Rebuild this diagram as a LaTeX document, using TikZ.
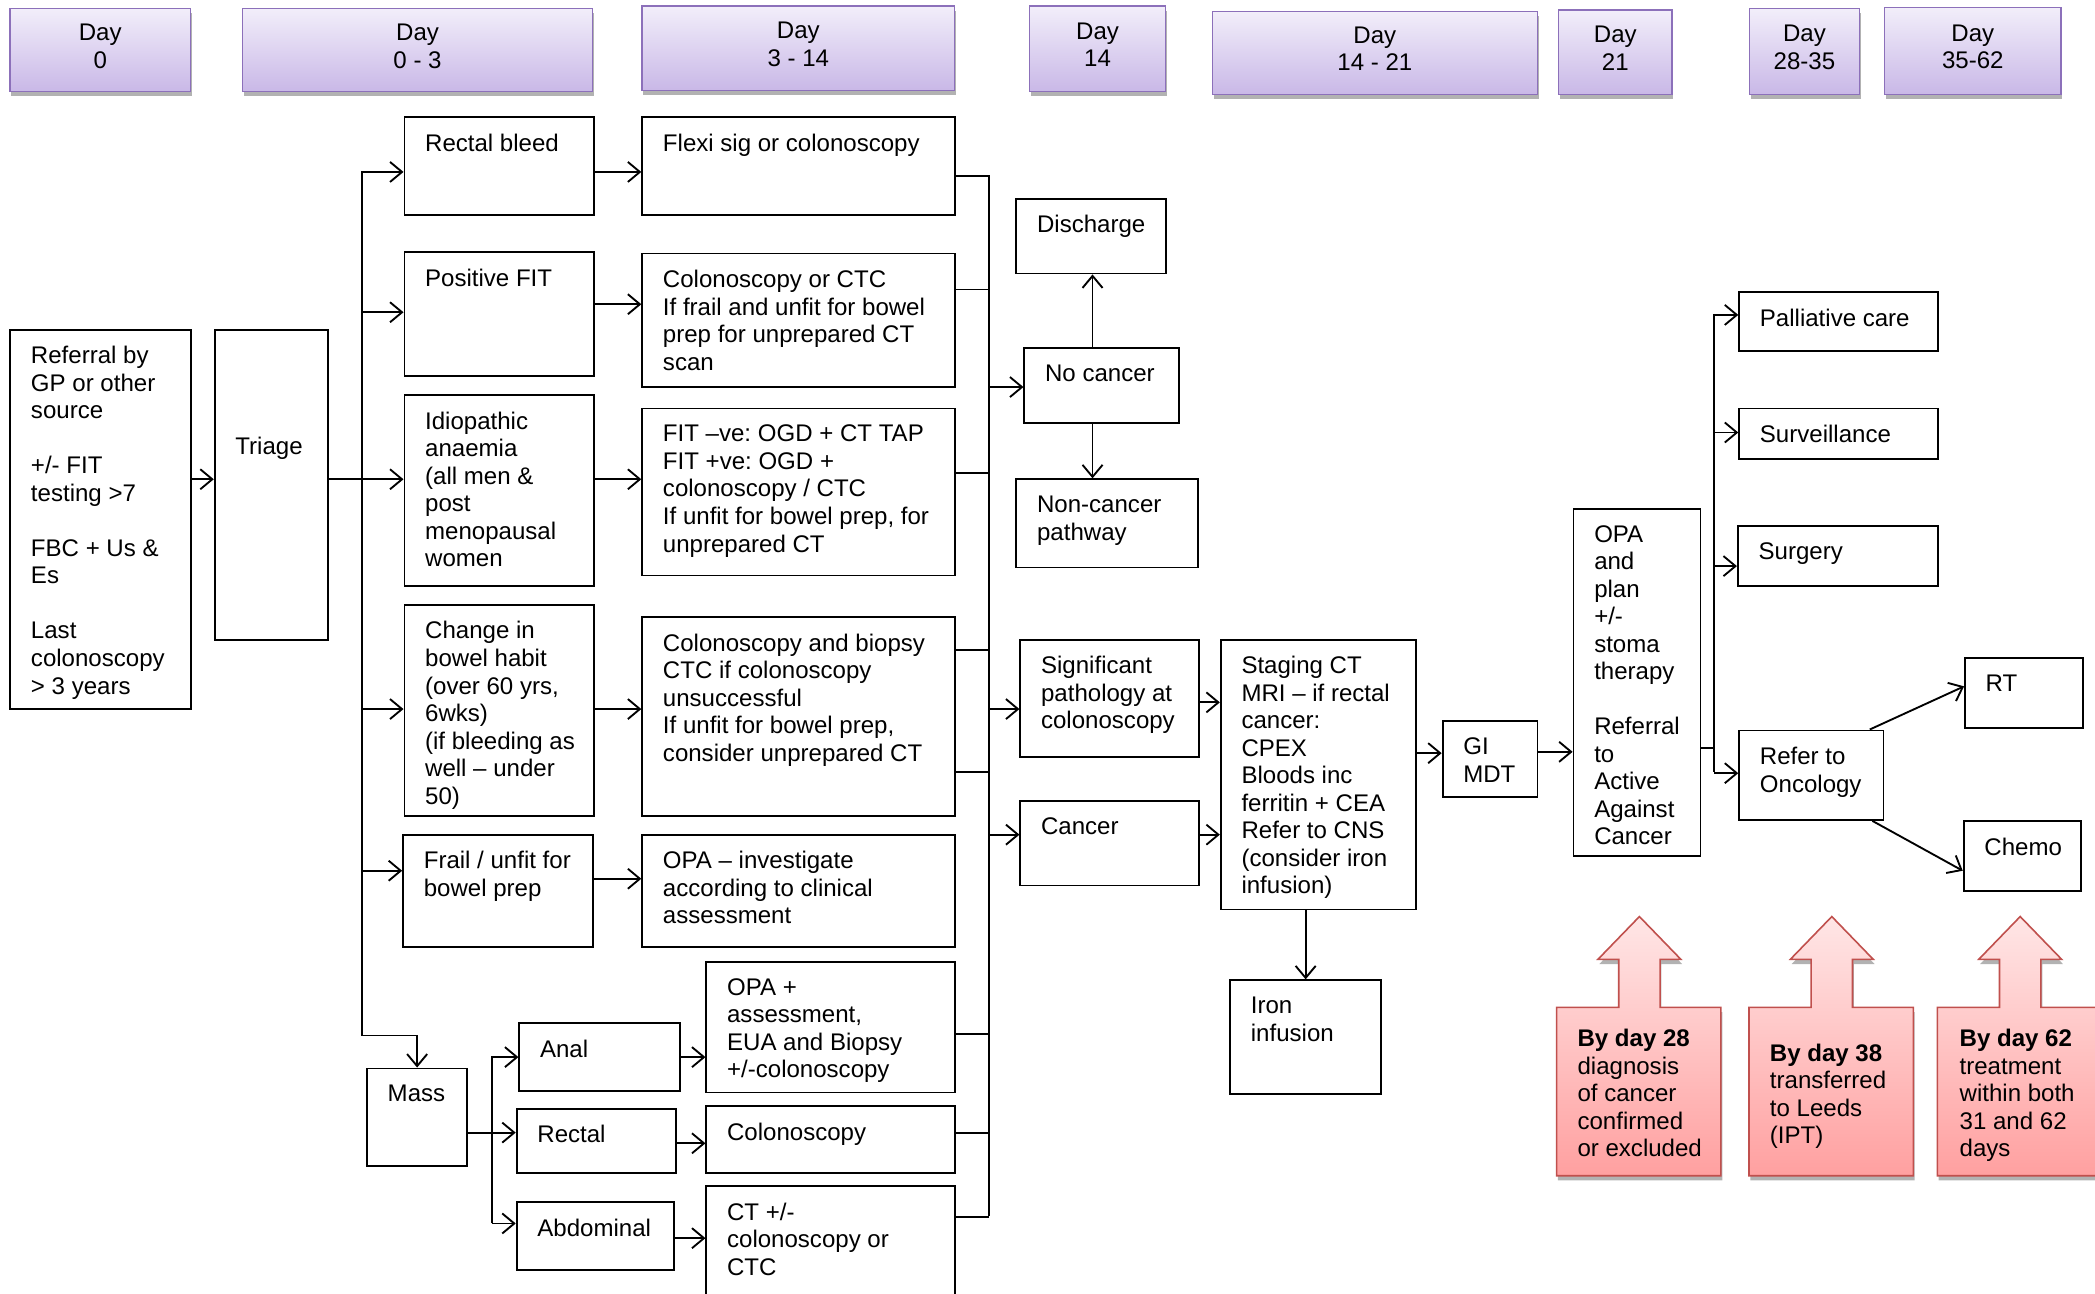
\documentclass[tikz,border=0pt]{standalone}
\usepackage{fontspec}
\setmainfont{Liberation Sans}
\frenchspacing
\usetikzlibrary{arrows.meta, positioning, shadows}
\definecolor{daytop}{RGB}{242,238,250}
\definecolor{daybot}{RGB}{201,184,231}
\definecolor{dayline}{RGB}{140,112,186}
\definecolor{redtop}{RGB}{255,230,230}
\definecolor{redbot}{RGB}{255,160,160}
\definecolor{redline}{RGB}{192,80,77}

\tikzset{
  sz/.style 2 args={minimum width=#1pt, minimum height=#2pt},
  box/.style={draw, anchor=north west, inner sep=0pt},
  txt/.style={anchor=north west, align=left, inner sep=0pt, xshift=15.5pt, yshift=-12.5pt},
  daybox/.style={draw=dayline, line width=1pt, top color=daytop, bottom color=daybot,
    anchor=north west, inner sep=0pt,
    drop shadow={shadow xshift=1pt, shadow yshift=-3.5pt, opacity=0.3, fill=black}},
  daytxt/.style={anchor=center, align=center, inner sep=0pt, yshift=3pt},
  redbox/.style={draw=redline, line width=1.2pt, top color=redtop, bottom color=redbot,
    drop shadow={shadow xshift=1pt, shadow yshift=-3.5pt, opacity=0.3, fill=black}},
  redtxt/.style={anchor=north west, align=left, inner sep=0pt},
}

\begin{document}
\begin{tikzpicture}[x=1pt, y=-1pt, line width=1.4pt,
    font=\fontsize{18}{20.6}\selectfont,
    >={Straight Barb[length=9pt,width=15pt]}]
  \useasboundingbox (0,0) rectangle (1568,968);

  % day headers
  \foreach \x/\y/\w/\h/\t [count=\i] in {7/6/135/62/0, 181/6/262/62/0 - 3, 480/4/234/63/3 - 14,
      770/4/102/64/14, 907/8/243/62/14 - 21, 1166/7/85/63/21, 1309/6/82/64/28-35, 1410/5/132/65/35-62}
    \node[daybox, sz={\w}{\h}, label={[daytxt]center:{Day\\\t}}] (day\i) at (\x,\y) {};

  % referral and triage
  \node[box, sz={135}{284}, label={[txt]north west:{Referral by\\GP or other\\source\\[20.6pt]+/- FIT\\testing >7\\[20.6pt]FBC + Us \&\\Es\\[20.6pt]Last\\colonoscopy\\> 3 years}}] (ref) at (7,246) {};
  \node[box, sz={85}{232}, label={[txt, yshift=-68pt]north west:Triage}] (tri) at (160,246) {};

  % symptoms
  \node[box, sz={142}{73}, label={[txt]north west:Rectal bleed}] (rb) at (302,87) {};
  \node[box, sz={142}{93}, label={[txt]north west:Positive FIT}] (pf) at (302,188) {};
  \node[box, sz={142}{143}, label={[txt]north west:{Idiopathic\\anaemia\\(all men \&\\post\\menopausal\\women}}] (ia) at (302,295) {};
  \node[box, sz={142}{158}, label={[txt]north west:{Change in\\bowel habit\\(over 60 yrs,\\6wks)\\(if bleeding as\\well – under\\50)}}] (cb) at (302,452) {};
  \node[box, sz={142}{84}, label={[txt]north west:{Frail / unfit for\\bowel prep}}] (fu) at (301,624) {};
  \node[box, sz={75}{73}, label={[txt]north west:Mass}] (ms) at (274,799) {};
  \node[box, sz={120}{51}, label={[txt]north west:Anal}] (an) at (388,765) {};
  \node[box, sz={119}{48}, label={[txt]north west:Rectal}] (re) at (386,829) {};
  \node[box, sz={118}{51}, label={[txt]north west:Abdominal}] (ab) at (386,899) {};

  % investigations
  \node[box, sz={234}{73}, label={[txt]north west:Flexi sig or colonoscopy}] (fs) at (480,87) {};
  \node[box, sz={234}{100}, label={[txt]north west:{Colonoscopy or CTC\\If frail and unfit for bowel\\prep for unprepared CT\\scan}}] (cc) at (480,189) {};
  \node[box, sz={234}{125}, label={[txt]north west:{FIT –ve: OGD + CT TAP\\FIT +ve: OGD +\\colonoscopy / CTC\\If unfit for bowel prep, for\\unprepared CT}}] (fo) at (480,305) {};
  \node[box, sz={234}{149}, label={[txt]north west:{Colonoscopy and biopsy\\CTC if colonoscopy\\unsuccessful\\If unfit for bowel prep,\\consider unprepared CT}}] (cbx) at (480,461) {};
  \node[box, sz={234}{84}, label={[txt]north west:{OPA – investigate\\according to clinical\\assessment}}] (oi) at (480,624) {};
  \node[box, sz={186}{98}, label={[txt]north west:{OPA +\\assessment,\\EUA and Biopsy\\+/-colonoscopy}}] (op2) at (528,719) {};
  \node[box, sz={186}{50}, label={[txt]north west:Colonoscopy}] (co) at (528,827) {};
  \node[box, sz={186}{100}, label={[txt]north west:{CT +/-\\colonoscopy or\\CTC}}] (ct) at (528,887) {};

  % results
  \node[box, sz={112}{56}, label={[txt]north west:Discharge}] (dis) at (760,148) {};
  \node[box, sz={116}{56}, label={[txt]north west:No cancer}] (nc) at (766,260) {};
  \node[box, sz={136}{66}, label={[txt]north west:{Non-cancer\\pathway}}] (ncp) at (760,358) {};
  \node[box, sz={134}{88}, label={[txt]north west:{Significant\\pathology at\\colonoscopy}}] (sp) at (763,478) {};
  \node[box, sz={134}{63}, label={[txt]north west:Cancer}] (ca) at (763,599) {};
  \node[box, sz={146}{202}, label={[txt]north west:{Staging CT\\MRI – if rectal\\cancer:\\CPEX\\Bloods inc\\ferritin + CEA\\Refer to CNS\\(consider iron\\infusion)}}] (st) at (913,478) {};
  \node[box, sz={71}{57}, label={[txt]north west:{GI\\MDT}}] (gi) at (1079,539) {};
  \node[box, sz={113}{85}, label={[txt]north west:{Iron\\infusion}}] (ir) at (920,733) {};
  \node[box, sz={95}{260}, label={[txt]north west:{OPA\\and\\plan\\+/-\\stoma\\therapy\\[20.6pt]Referral\\to\\Active\\Against\\Cancer}}] (opa) at (1177,380) {};

  % treatment
  \node[box, sz={149}{44}, label={[txt]north west:Palliative care}] (pc) at (1301,218) {};
  \node[box, sz={149}{38}, label={[txt]north west:Surveillance}] (sv) at (1301,305) {};
  \node[box, sz={150}{45}, label={[txt]north west:Surgery}] (sg) at (1300,393) {};
  \node[box, sz={108}{67}, label={[txt]north west:{Refer to\\Oncology}}] (ro) at (1301,546) {};
  \node[box, sz={88}{52}, label={[txt]north west:RT}] (rt) at (1470,492) {};
  \node[box, sz={88}{52}, label={[txt]north west:Chemo}] (ch) at (1469,614) {};

  % bus lines
  \coordinate (b1) at (271,128);
  \coordinate (b1e) at (271,775);
  \coordinate (b2) at (368,790.5);
  \coordinate (b2e) at (368,915);
  \coordinate (b3) at (740,131);
  \coordinate (b3e) at (740,910);
  \coordinate (b4) at (1283,235);
  \coordinate (b4e) at (1283,578);

  % referral to triage to symptoms
  \draw[->] ([yshift=4pt]tri.west -| ref.east) -- ([yshift=4pt]tri.west);
  \draw ([yshift=4pt]tri.east) -- ([yshift=4pt]tri.east -| b1);
  \draw[->] (b1) -- (b1e) -| (ms.north);
  \foreach \n/\s in {rb/-4.5, pf/1.5, ia/8.5, cb/1, fu/15}
    \draw[->] ([yshift=\s pt]\n.west -| b1) -- ([yshift=\s pt]\n.west);
  \foreach \a/\b/\s in {rb/fs/-4.5, pf/cc/7.5, ia/fo/8.5, cb/cbx/1, fu/oi/9}
    \draw[->] ([yshift=\s pt]\a.east) -- ([yshift=\s pt]\a.east -| \b.west);

  % mass
  \draw ([yshift=-11.5pt]ms.east) -- ([yshift=-11.5pt]ms.east -| b2);
  \draw (b2) -- (b2e);
  \foreach \n/\s in {an/0, re/6, ab/9.5}
    \draw[->] ([yshift=\s pt]\n.west -| b2) -- ([yshift=\s pt]\n.west);
  \foreach \a/\b/\s in {an/op2/0, re/co/-2, ab/ct/-1.5}
    \draw[->] ([yshift=\s pt]\a.east) -- ([yshift=\s pt]\a.east -| \b.west);

  % investigations to results
  \foreach \n/\s in {fs/-7.5, cc/23, fo/14.5, cbx/49.5, oi/89, op2/-5, co/5, ct/27}
    \draw ([yshift=\s pt]\n.east) -- ([yshift=\s pt]\n.east -| b3);
  \draw (b3) -- (b3e);
  \foreach \n/\s in {nc/-1, sp/-8, ca/6.5}
    \draw[->] ([yshift=\s pt]\n.west -| b3) -- ([yshift=\s pt]\n.west);
  \draw[->] ([xshift=-7pt]nc.north) -- ([xshift=-7pt]nc.north |- dis.south);
  \draw[->] ([xshift=-7pt]nc.south) -- ([xshift=-7pt]nc.south |- ncp.north);
  \foreach \n/\s in {sp/-3, ca/6.5}
    \draw[->] ([yshift=\s pt]\n.east) -- ([yshift=\s pt]\n.east -| st.west);
  \draw[->] ([yshift=4.5pt]gi.west -| st.east) -- ([yshift=4.5pt]gi.west);
  \draw[->] ([yshift=5.5pt]gi.east) -- ([yshift=5.5pt]gi.east -| opa.west);
  \draw[->] (ir.north |- st.south) -- (ir.north);

  % treatment options
  \draw ([yshift=-49pt]opa.east) -- ([yshift=-49pt]opa.east -| b4);
  \draw (b4) -- (b4e);
  \foreach \n/\s in {pc/5, sv/1, sg/-7.5, ro/1.5}
    \draw[->] ([yshift=\s pt]\n.west -| b4) -- ([yshift=\s pt]\n.west);
  \draw[->] ([xshift=-11pt]ro.north east) -- ([yshift=5pt]rt.west);
  \draw[->] ([xshift=-9pt]ro.south east) -- ([yshift=-11pt]ch.west);

  % target callouts
  \foreach \x/\c in {1165/1227, 1309/1371, 1450/1512}
    \draw[redbox] (\x,754) -- (\c-15.5,754) -- (\c-15.5,718) -- (\c-31,718) -- (\c,686)
      -- (\c+31,718) -- (\c+15.5,718) -- (\c+15.5,754) -- (\x+123,754) -- (\x+123,880)
      -- (\x,880) -- cycle;
  \node[redtxt] (by28) at (1180,769.5) {\textbf{By day 28}\\diagnosis\\of cancer\\confirmed\\or excluded};
  \node[redtxt] (by38) at (1324,780.5) {\textbf{By day 38}\\transferred\\to Leeds\\(IPT)};
  \node[redtxt] (by62) at (1466,769.5) {\textbf{By day 62}\\treatment\\within both\\31 and 62\\days};
\end{tikzpicture}
\end{document}
